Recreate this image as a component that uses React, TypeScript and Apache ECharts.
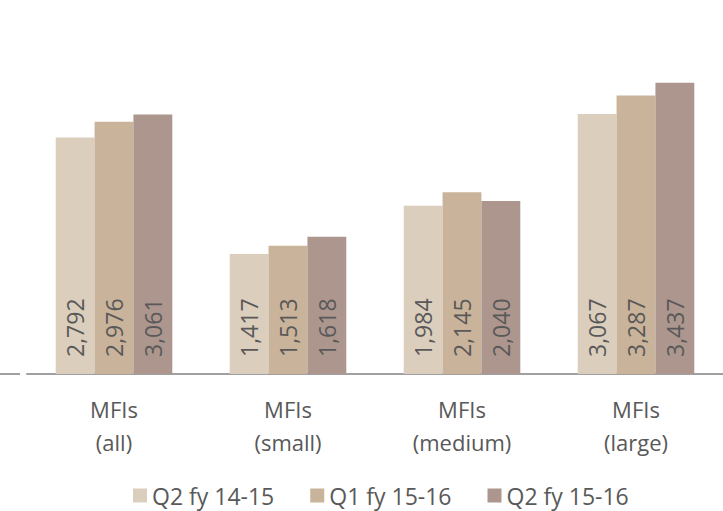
import React, { useEffect, useRef } from "react";
import * as echarts from "echarts";

const categories = ["MFIs\n(all)", "MFIs\n(small)", "MFIs\n(medium)", "MFIs\n(large)"];
const seriesNames = ["Q2 fy 14-15", "Q1 fy 15-16", "Q2 fy 15-16"];
const q2fy1415 = [2792, 1417, 1984, 3067];
const q1fy1516 = [2976, 1513, 2145, 3287];
const q2fy1516 = [3061, 1618, 2040, 3437];
const colors = ["#DBCEBD", "#C9B39A", "#AD968E"];

export default function App() {
  const ref = useRef<HTMLDivElement>(null);
  useEffect(() => {
    if (!ref.current) return;
    const chart = echarts.init(ref.current, undefined, { renderer: "svg" });
    const font = "'Open Sans', sans-serif";
    const data = [q2fy1415, q1fy1516, q2fy1516];
    chart.setOption({
      animation: false,
      textStyle: { fontFamily: font },
      grid: { left: 27, right: -1, top: 35, bottom: 137, containLabel: false },
      legend: {
        data: seriesNames,
        left: 133,
        top: 484,
        itemWidth: 14,
        itemHeight: 14,
        itemGap: 36,
        padding: 0,
        icon: "rect",
        textStyle: { fontSize: 23, lineHeight: 22, color: "#595959", fontFamily: font },
      },
      xAxis: {
        type: "category",
        data: categories,
        axisLine: { show: true, lineStyle: { color: "#A0A0A0", width: 2 } },
        axisTick: { show: false },
        axisLabel: {
          color: "#595959",
          fontSize: 22,
          lineHeight: 33,
          margin: 18,
          fontFamily: font,
        },
      },
      yAxis: {
        type: "value",
        min: 0,
        max: 4000,
        show: false,
        splitLine: { show: false },
      },
      graphic: [
        {
          type: "line",
          shape: { x1: 0, y1: 374, x2: 20, y2: 374 },
          style: { stroke: "#A0A0A0", lineWidth: 2 },
        },
      ],
      series: seriesNames.map((name, i) => ({
        name,
        type: "bar",
        data: data[i],
        barGap: "0%",
        barCategoryGap: "33%",
        itemStyle: { color: colors[i] },
        label: {
          show: true,
          position: "insideBottom",
          rotate: 90,
          align: "left",
          verticalAlign: "middle",
          distance: 17,
          fontSize: 23,
          color: "#595959",
          fontFamily: font,
          formatter: (p: any) => p.value.toLocaleString("en-US"),
        },
      })),
    });
    return () => chart.dispose();
  }, []);
  return (
    <div
      ref={ref}
      style={{ position: "fixed", left: 0, top: 0, width: 723, height: 511, background: "#fff" }}
    />
  );
}
